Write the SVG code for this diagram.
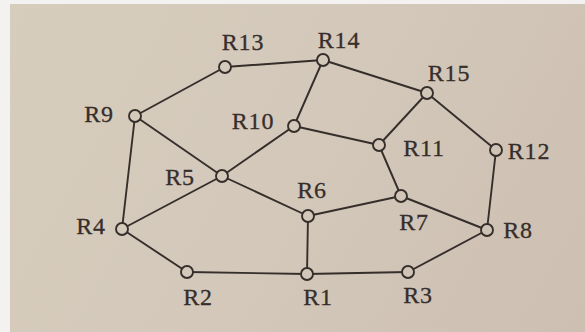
<svg xmlns="http://www.w3.org/2000/svg" width="585" height="332" viewBox="0 0 585 332">
<defs>
<linearGradient id="bg" gradientUnits="userSpaceOnUse" x1="0" y1="0" x2="585" y2="332">
<stop offset="0" stop-color="#d7cdbc"/>
<stop offset="0.5" stop-color="#d3c8ba"/>
<stop offset="1" stop-color="#cdbfb2"/>
</linearGradient>
<style>
.e{stroke:#352e2a;stroke-width:1.9;fill:none;stroke-linecap:round}
.n{stroke:#352e2a;stroke-width:1.9;fill:url(#bg)}
.t{font-family:"Liberation Serif",serif;font-size:24px;fill:#352e2a;stroke:#352e2a;stroke-width:0.3;text-anchor:middle;letter-spacing:0.8px}
</style>
</defs>
<rect x="0" y="0" width="585" height="332" fill="#f4f2f0"/>
<rect x="10" y="4" width="575" height="328" fill="url(#bg)"/>
<g id="connectors">
<line class="e" x1="135" y1="116" x2="225" y2="67"/>
<line class="e" x1="225" y1="67" x2="323" y2="60"/>
<line class="e" x1="323" y1="60" x2="427" y2="93"/>
<line class="e" x1="427" y1="93" x2="496" y2="150"/>
<line class="e" x1="496" y1="150" x2="487" y2="230"/>
<line class="e" x1="487" y1="230" x2="408" y2="272"/>
<line class="e" x1="408" y1="272" x2="307" y2="274"/>
<line class="e" x1="307" y1="274" x2="187" y2="272"/>
<line class="e" x1="187" y1="272" x2="122" y2="229"/>
<line class="e" x1="122" y1="229" x2="135" y2="116"/>
<line class="e" x1="135" y1="116" x2="222" y2="176"/>
<line class="e" x1="222" y1="176" x2="294" y2="126"/>
<line class="e" x1="294" y1="126" x2="323" y2="60"/>
<line class="e" x1="294" y1="126" x2="379" y2="145"/>
<line class="e" x1="379" y1="145" x2="427" y2="93"/>
<line class="e" x1="379" y1="145" x2="401" y2="196"/>
<line class="e" x1="401" y1="196" x2="487" y2="230"/>
<line class="e" x1="401" y1="196" x2="308" y2="216"/>
<line class="e" x1="308" y1="216" x2="222" y2="176"/>
<line class="e" x1="308" y1="216" x2="307" y2="274"/>
<line class="e" x1="222" y1="176" x2="122" y2="229"/>
</g>
<g id="R1"><circle class="n" cx="307" cy="274" r="6"/><text class="t" x="318" y="305">R1</text></g>
<g id="R2"><circle class="n" cx="187" cy="272" r="6"/><text class="t" x="198" y="305">R2</text></g>
<g id="R3"><circle class="n" cx="408" cy="272" r="6"/><text class="t" x="418" y="303">R3</text></g>
<g id="R4"><circle class="n" cx="122" cy="229" r="6"/><text class="t" x="91" y="234">R4</text></g>
<g id="R5"><circle class="n" cx="222" cy="176" r="6"/><text class="t" x="180" y="185">R5</text></g>
<g id="R6"><circle class="n" cx="308" cy="216" r="6"/><text class="t" x="312" y="198">R6</text></g>
<g id="R7"><circle class="n" cx="401" cy="196" r="6"/><text class="t" x="414" y="230">R7</text></g>
<g id="R8"><circle class="n" cx="487" cy="230" r="6"/><text class="t" x="518" y="238">R8</text></g>
<g id="R9"><circle class="n" cx="135" cy="116" r="6"/><text class="t" x="99" y="122">R9</text></g>
<g id="R10"><circle class="n" cx="294" cy="126" r="6"/><text class="t" x="253" y="129">R10</text></g>
<g id="R11"><circle class="n" cx="379" cy="145" r="6"/><text class="t" x="424" y="156">R11</text></g>
<g id="R12"><circle class="n" cx="496" cy="150" r="6"/><text class="t" x="529" y="159">R12</text></g>
<g id="R13"><circle class="n" cx="225" cy="67" r="6"/><text class="t" x="243" y="50">R13</text></g>
<g id="R14"><circle class="n" cx="323" cy="60" r="6"/><text class="t" x="339" y="48">R14</text></g>
<g id="R15"><circle class="n" cx="427" cy="93" r="6"/><text class="t" x="449" y="81">R15</text></g>
</svg>
